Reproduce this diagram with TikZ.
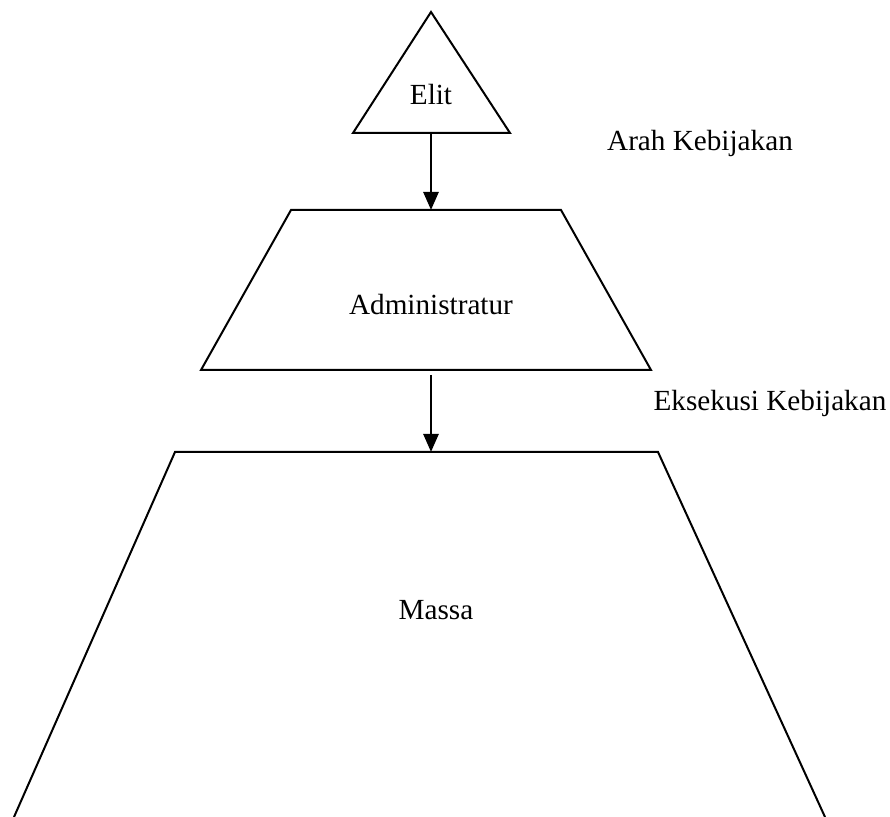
\documentclass[tikz,border=0pt]{standalone}
\usepackage{fontspec}
\setmainfont{Liberation Serif}
\usetikzlibrary{arrows.meta}
\begin{document}
\begin{tikzpicture}[x=0.5pt,y=-0.5pt,line width=1pt,
    label/.style={font=\fontsize{14.6}{17}\selectfont},
    flow/.style={-{Triangle[length=9pt,width=7.5pt]},line width=1.3pt}]
        \useasboundingbox (0,0) rectangle (890,817);

        % Draw the three levels
        \draw (431,12) -- (510,133) -- (353,133) -- cycle;
        \node[label] (elit) at (431,95) {Elit};
        \draw (291,210) -- (561,210) -- (651,370) -- (201,370) -- cycle;
        \node[label] (admin) at (431,305) {Administratur};
        \draw (14,817) -- (175,452) -- (658,452) -- (825,817);
        \node[label] (massa) at (436,610) {Massa};

        % Add the points for the arrows
        \coordinate (elitbase) at (431,133);
        \coordinate (admintop) at (431,210);
        \coordinate (adminbase) at (431,375);
        \coordinate (massatop) at (431,452);

        % Add the arrows and their labels
        \draw[flow] (elitbase) -- (admintop);
        \node[label] (arah) at (700,143) {Arah Kebijakan};
        \draw[flow] (adminbase) -- (massatop);
        \node[label] (eksekusi) at (770,403) {Eksekusi Kebijakan};
    \end{tikzpicture}
\end{document}
